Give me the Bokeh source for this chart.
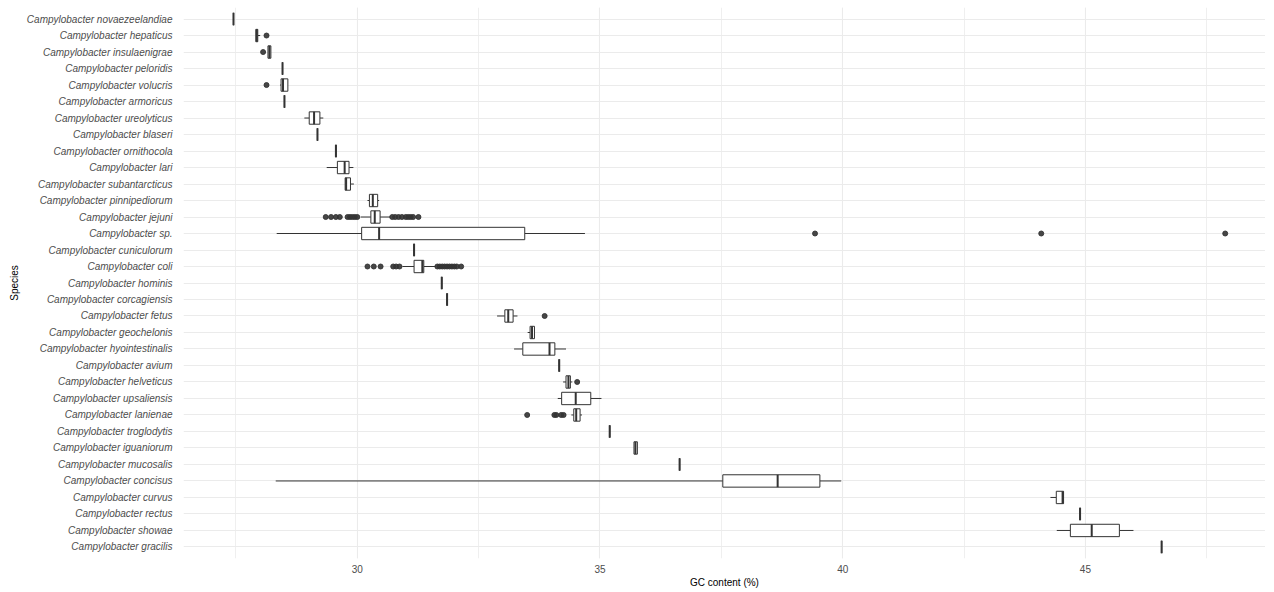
from bokeh.plotting import figure
from bokeh.models import FactorRange, Range1d, SingleIntervalTicker, ColumnDataSource
from bokeh.embed import file_html
from bokeh.resources import INLINE

# Species, top to bottom
species = [
    "Campylobacter novaezeelandiae", "Campylobacter hepaticus", "Campylobacter insulaenigrae",
    "Campylobacter peloridis", "Campylobacter volucris", "Campylobacter armoricus",
    "Campylobacter ureolyticus", "Campylobacter blaseri", "Campylobacter ornithocola",
    "Campylobacter lari", "Campylobacter subantarcticus", "Campylobacter pinnipediorum",
    "Campylobacter jejuni", "Campylobacter sp.", "Campylobacter cuniculorum",
    "Campylobacter coli", "Campylobacter hominis", "Campylobacter corcagiensis",
    "Campylobacter fetus", "Campylobacter geochelonis", "Campylobacter hyointestinalis",
    "Campylobacter avium", "Campylobacter helveticus", "Campylobacter upsaliensis",
    "Campylobacter lanienae", "Campylobacter troglodytis", "Campylobacter iguaniorum",
    "Campylobacter mucosalis", "Campylobacter concisus", "Campylobacter curvus",
    "Campylobacter rectus", "Campylobacter showae", "Campylobacter gracilis",
]

whisk_lo = [27.45, 27.91, 28.16, 28.46, 28.41, 28.50, 28.91, 29.18, 29.56, 29.37, 29.75,
            30.21, 30.07, 28.34, 31.17, 30.93, 31.74, 31.85, 32.88, 33.51, 33.23, 34.16,
            34.24, 34.13, 34.41, 35.20, 35.70, 36.64, 28.32, 44.28, 44.89, 44.41, 46.57]
q1 = [27.45, 27.91, 28.16, 28.46, 28.43, 28.50, 29.01, 29.18, 29.56, 29.59, 29.75,
      30.25, 30.28, 30.09, 31.17, 31.17, 31.74, 31.85, 33.04, 33.56, 33.41, 34.16,
      34.30, 34.21, 34.46, 35.20, 35.70, 36.64, 37.53, 44.40, 44.89, 44.69, 46.57]
median = [27.45, 27.93, 28.19, 28.46, 28.47, 28.50, 29.11, 29.18, 29.56, 29.74, 29.77,
          30.32, 30.36, 30.45, 31.17, 31.34, 31.74, 31.85, 33.11, 33.60, 33.96, 34.16,
          34.35, 34.50, 34.51, 35.20, 35.73, 36.64, 38.66, 44.53, 44.89, 45.13, 46.57]
q3 = [27.45, 27.95, 28.22, 28.46, 28.57, 28.50, 29.23, 29.18, 29.56, 29.83, 29.86,
      30.42, 30.47, 33.45, 31.17, 31.37, 31.74, 31.85, 33.21, 33.65, 34.07, 34.16,
      34.39, 34.81, 34.59, 35.20, 35.77, 36.64, 39.53, 44.55, 44.89, 45.70, 46.57]
whisk_hi = [27.45, 28.00, 28.22, 28.46, 28.57, 28.50, 29.30, 29.18, 29.56, 29.92, 29.93,
            30.45, 30.69, 34.69, 31.17, 31.61, 31.74, 31.85, 33.30, 33.65, 34.30, 34.16,
            34.43, 35.03, 34.63, 35.20, 35.77, 36.64, 39.97, 44.55, 44.89, 45.99, 46.57]

# Outliers
out_species = (
    ["Campylobacter hepaticus"] + ["Campylobacter insulaenigrae"] + ["Campylobacter volucris"]
    + ["Campylobacter jejuni"] * 18
    + ["Campylobacter sp."] * 3
    + ["Campylobacter coli"] * 16
    + ["Campylobacter fetus"] + ["Campylobacter helveticus"]
    + ["Campylobacter lanienae"] * 5
)
out_values = (
    [28.13] + [28.06] + [28.13]
    + [29.35, 29.46, 29.56, 29.64, 29.80, 29.85, 29.90, 29.95, 30.00,
       30.72, 30.78, 30.85, 30.92, 31.00, 31.05, 31.10, 31.15, 31.26]
    + [39.43, 44.09, 47.88]
    + [30.21, 30.34, 30.48, 30.74, 30.80, 30.87,
       31.65, 31.70, 31.75, 31.80, 31.85, 31.90, 31.95, 32.00, 32.05, 32.14]
    + [33.86] + [34.53]
    + [33.50, 34.06, 34.10, 34.20, 34.25]
)

x_ticks_interval = 5
x_title = "GC content (%)"
y_title = "Species"

LINE = "#333333"
GRID = "#EBEBEB"
TXT = "#4D4D4D"
FONT = "Liberation Sans"

p = figure(
    width=1265, height=590,
    y_range=FactorRange(factors=list(reversed(species)), range_padding=0.2,
                        range_padding_units="absolute"),
    x_range=Range1d(26.42, 48.71),
    output_backend="svg", toolbar_location=None,
    min_border_left=183, min_border_right=0, min_border_top=7, min_border_bottom=0,
)
p.outline_line_color = None
p.background_fill_color = "white"
p.border_fill_color = "white"

# whiskers
bw = 0.75
seg = ColumnDataSource(dict(
    x0=whisk_lo + q3, x1=q1 + whisk_hi, y=species + species,
))
p.segment(x0="x0", y0="y", x1="x1", y1="y", source=seg, line_color=LINE, line_width=1)

# boxes
box = ColumnDataSource(dict(y=species, left=q1, right=q3, med=median,
                            ylo=[(s, -bw / 2) for s in species],
                            yhi=[(s, bw / 2) for s in species]))
p.hbar(y="y", left="left", right="right", height=bw, source=box,
       fill_color="white", line_color=LINE, line_width=1)
# medians
p.segment(x0="med", y0="ylo", x1="med", y1="yhi", source=box, line_color=LINE, line_width=2)

# outliers
p.scatter(x=out_values, y=out_species, size=5, fill_color=LINE, line_color=LINE,
          fill_alpha=0.9, line_alpha=0.9)

# axes
ticker = SingleIntervalTicker(interval=x_ticks_interval, num_minor_ticks=2)
p.xaxis.ticker = ticker
p.xgrid.ticker = ticker
for ax in (p.xaxis[0], p.yaxis[0]):
    ax.axis_line_color = None
    ax.major_tick_line_color = None
    ax.minor_tick_line_color = None
    ax.major_tick_out = 0
    ax.major_tick_in = 0
    ax.minor_tick_out = 0
    ax.minor_tick_in = 0
    ax.major_label_text_color = TXT
    ax.major_label_text_font = FONT
    ax.major_label_text_font_size = "10px"
    ax.axis_label_text_font = FONT
    ax.axis_label_text_font_size = "10px"
    ax.axis_label_text_font_style = "normal"
    ax.axis_label_text_color = "black"

p.xaxis.axis_label = x_title
p.yaxis.axis_label = y_title
p.yaxis.major_label_text_font_style = "italic"
p.yaxis.major_label_standoff = 11
p.yaxis.axis_label_standoff = 4
p.xaxis.major_label_standoff = 6
p.xaxis.axis_label_standoff = 1

p.xgrid.grid_line_color = GRID
p.xgrid.grid_line_width = 1.1
p.xgrid.minor_grid_line_color = GRID
p.xgrid.minor_grid_line_width = 0.8
p.ygrid.grid_line_color = GRID
p.ygrid.grid_line_width = 1.1

open("out.html", "w").write(file_html(p, INLINE))
